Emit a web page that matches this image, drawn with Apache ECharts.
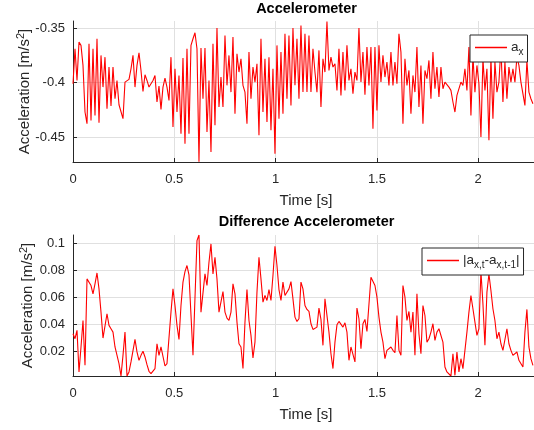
<!DOCTYPE html>
<html>
<head>
<meta charset="utf-8">
<script src="https://cdn.jsdelivr.net/npm/echarts@6/dist/echarts.min.js"></script>
<style>
  html, body { margin: 0; padding: 0; background: #ffffff; }
  #chart { width: 534px; height: 430px; }
</style>
</head>
<body>
<div id="chart"></div>
<script>
// Length of the recording, in seconds (first sample at t = 0)
const RECORD_DURATION = 2.27;

// x-axis acceleration a_x [m/s^2]
const accelX = [
  -0.4009,-0.3688,-0.3979,-0.3627,-0.3657,-0.3841,-0.4269,-0.4376,-0.3642,-0.4346,
  -0.3688,-0.4300,-0.3596,-0.4367,-0.3749,-0.4040,-0.3765,-0.4239,-0.3856,-0.4214,
  -0.3856,-0.4147,-0.3979,-0.4202,-0.4193,-0.4330,-0.3994,-0.3988,-0.3969,-0.3872,
  -0.3749,-0.4040,-0.3841,-0.3725,-0.3887,-0.4080,-0.3927,-0.3979,-0.4040,-0.4009,
  -0.3979,-0.3933,-0.4177,-0.4031,-0.4245,-0.4040,-0.3957,-0.4040,-0.4162,-0.3765,
  -0.4407,-0.3872,-0.4269,-0.3933,-0.4468,-0.3774,-0.4560,-0.3688,-0.4468,-0.3657,
  -0.3596,-0.3541,-0.3688,-0.4725,-0.3682,-0.4147,-0.3682,-0.4453,-0.3979,-0.4636,
  -0.3642,-0.4391,-0.3498,-0.4223,-0.3948,-0.4223,
  -0.3566,-0.4024,-0.3749,-0.4086,-0.3581,-0.4284,-0.3734,-0.3902,-0.3780,-0.4024,
  -0.4086,-0.4376,-0.3719,-0.4147,-0.3856,-0.3994,-0.3826,-0.4483,-0.3596,-0.4269,
  -0.3780,-0.4361,-0.3765,-0.4437,-0.3872,-0.4651,-0.3657,-0.4330,-0.3719,-0.4284,
  -0.3550,-0.4147,-0.3566,-0.4208,-0.3498,-0.4024,-0.3596,-0.4147,-0.3474,-0.4086,
  -0.3550,-0.4086,-0.3566,-0.4086,-0.3688,-0.3902,-0.4086,-0.3703,-0.4223,-0.3780,
  -0.3902,-0.3437,-0.3887,-0.3765,-0.3856,-0.3826,-0.4070,-0.3688,-0.4116,-0.3719,
  -0.4070,-0.3657,-0.3979,-0.3872,-0.4101,-0.3902,-0.3979,-0.3498,-0.3994,-0.3719,
  -0.4110,-0.3673,-0.4024,-0.3673,-0.4422,-0.3673,-0.4254,
  -0.3657,-0.3994,-0.3749,-0.3948,-0.3810,-0.4024,-0.3719,-0.4024,-0.3810,-0.4009,
  -0.3550,-0.3719,-0.4376,-0.3780,-0.4024,-0.3887,-0.4284,-0.3933,-0.4086,-0.3673,
  -0.4223,-0.3841,-0.4376,-0.3887,-0.3963,-0.3795,-0.4147,-0.3719,-0.4055,-0.3856,
  -0.4131,-0.3856,-0.4055,-0.3994,-0.4009,-0.4040,-0.4070,-0.4177,-0.4269,-0.4116,
  -0.4101,-0.3994,-0.4024,-0.3872,-0.4070,-0.3673,-0.4300,-0.3749,-0.4086,-0.3841,
  -0.4009,-0.4498,-0.3780,-0.4070,-0.3872,-0.4529,-0.3765,-0.4330,-0.3810,-0.4086,
  -0.3994,-0.3673,-0.4177,-0.3810,-0.4147,-0.3856,-0.3994,-0.3872,-0.3994,-0.3765,
  -0.3841,-0.3994,-0.3979,-0.4208,-0.3795,-0.4086,-0.4147,-0.4193
];

// Sample-to-sample change |a_x,t - a_x,t-1| [m/s^2]
const accelDiff = [
  0.0328,0.0291,0.0353,0.0045,0.0230,0.0426,0.0094,0.0734,0.0722,0.0685,
  0.0623,0.0697,0.0778,0.0660,0.0488,0.0296,0.0291,0.0476,0.0390,0.0365,
  0.0340,0.0230,0.0225,0.0107,0.0015,0.0168,0.0340,0.0015,0.0045,0.0119,
  0.0114,0.0286,0.0193,0.0131,0.0168,0.0198,0.0156,0.0099,0.0050,0.0033,
  0.0033,0.0070,0.0254,0.0168,0.0230,0.0217,0.0089,0.0107,0.0119,0.0488,
  0.0660,0.0537,0.0390,0.0286,0.0537,0.0710,0.0788,0.0833,0.0764,0.0764,
  0.0168,0.0180,0.1017,0.1059,0.0488,0.0488,0.0771,0.0685,0.0857,0.0993,
  0.0771,0.0894,0.0734,0.0488,0.0488,0.0640,
  0.0488,0.0444,0.0426,0.0488,0.0697,0.0623,0.0414,0.0254,0.0230,0.0070,
  0.0414,0.0655,0.0426,0.0316,0.0148,0.0266,0.0636,0.0894,0.0734,0.0562,
  0.0611,0.0574,0.0655,0.0574,0.0759,0.0975,0.0833,0.0655,0.0574,0.0710,
  0.0611,0.0611,0.0660,0.0714,0.0586,0.0451,0.0419,0.0439,0.0710,0.0660,
  0.0537,0.0508,0.0493,0.0402,0.0360,0.0360,0.0377,0.0518,0.0434,0.0242,
  0.0586,0.0591,0.0340,0.0180,0.0070,0.0266,0.0394,0.0419,0.0426,0.0377,
  0.0409,0.0340,0.0131,0.0230,0.0217,0.0119,0.0518,0.0439,0.0217,0.0402,
  0.0434,0.0345,0.0335,0.0746,0.0759,0.0685,0.0599,
  0.0451,0.0340,0.0266,0.0143,0.0205,0.0217,0.0230,0.0205,0.0188,0.0463,
  0.0205,0.0168,0.0685,0.0599,0.0426,0.0493,0.0340,0.0488,0.0168,0.0623,
  0.0328,0.0180,0.0537,0.0463,0.0266,0.0291,0.0340,0.0402,0.0279,0.0340,
  0.0365,0.0360,0.0266,0.0082,0.0045,0.0045,0.0015,0.0180,0.0020,0.0193,
  0.0045,0.0143,0.0070,0.0205,0.0340,0.0488,0.0611,0.0513,0.0414,0.0316,
  0.0365,0.0790,0.0550,0.0242,0.0636,0.0770,0.0648,0.0513,0.0426,0.0291,
  0.0340,0.0254,0.0205,0.0193,0.0365,0.0254,0.0205,0.0168,0.0156,0.0193,
  0.0131,0.0119,0.0082,0.0340,0.0508,0.0230,0.0143,0.0094
];

// Tick positions
const timeTicks = [0, 0.5, 1, 1.5, 2];
const accelTicks = [-0.45, -0.4, -0.35];
const diffTicks = [0.02, 0.04, 0.06, 0.08, 0.1];

// Axis limits
const timeRange = [0, 2.3];
const accelRange = [-0.4728, -0.3433];
const diffRange = [0.0015, 0.1059];

const FONT = '"Liberation Sans", Arial, Helvetica, sans-serif';
const INK = '#262626';
const GRID_GRAY = '#e0e0e0';
const RED = '#ff0000';

// Pair each reading with its time stamp (uniform sampling over the recording)
const toPairs = arr => {
  const dt = RECORD_DURATION / (arr.length - 1);
  return arr.map((v, i) => [i * dt, v]);
};

function timeAxis(gridIndex) {
  return {
    type: 'value', gridIndex,
    min: timeRange[0], max: timeRange[1],
    name: 'Time [s]', nameLocation: 'middle', nameGap: 31, nameMoveOverlap: false,
    nameTextStyle: { fontFamily: FONT, fontSize: 15, color: INK },
    axisLine: { show: true, onZero: false, lineStyle: { color: INK, width: 1 } },
    axisTick: { show: true, inside: true, length: 4, customValues: timeTicks, lineStyle: { color: INK } },
    axisLabel: { customValues: timeTicks, fontFamily: FONT, fontSize: 13, color: INK, margin: 11 },
    splitLine: { show: true, lineStyle: { color: GRID_GRAY, width: 1 } }
  };
}

function accelAxis(gridIndex, range, ticks, gap) {
  return {
    type: 'value', gridIndex,
    min: range[0], max: range[1],
    name: 'Acceleration [m/s{sup|2}]', nameLocation: 'middle', nameRotate: 90, nameGap: gap,
    nameMoveOverlap: false,
    nameTextStyle: {
      fontFamily: FONT, fontSize: 15, color: INK, lineHeight: 17, verticalAlign: 'bottom',
      rich: { sup: { fontFamily: FONT, fontSize: 11, color: INK, lineHeight: 11,
                     padding: [0, 0, 7, 0], verticalAlign: 'bottom' } }
    },
    axisLine: { show: true, onZero: false, lineStyle: { color: INK, width: 1 } },
    axisTick: { show: true, inside: true, length: 4, customValues: ticks, lineStyle: { color: INK } },
    axisLabel: { customValues: ticks, fontFamily: FONT, fontSize: 13, color: INK, margin: 8 },
    splitLine: { show: true, lineStyle: { color: GRID_GRAY, width: 1 } }
  };
}

// Legend label styles: a red key stroke, the symbol, and its subscript
const legendRich = {
  key: { width: 32, height: 1.5, lineHeight: 1.5, fontSize: 1, backgroundColor: RED,
         verticalAlign: 'middle', padding: [0, 0, 0, 0] },
  gap: { width: 4, fontSize: 1 },
  n: { fontFamily: FONT, fontSize: 13.5, color: INK, lineHeight: 15, verticalAlign: 'top' },
  s: { fontFamily: FONT, fontSize: 10, color: INK, lineHeight: 10, padding: [7, 0, 0, 0], verticalAlign: 'top' }
};

const legendLabels = {
  ax: '{key| }{gap| }{n|a}{s|x}',
  diff: '{key| }{gap| }{n||a}{s|x,t}{n|-a}{s|x,t-1}{n||}'
};

function legendBox(name, left, top) {
  return {
    data: [name],
    left, top, orient: 'vertical',
    icon: 'none', itemWidth: 0, itemHeight: 14, itemGap: 0,
    padding: [5, 4, 5, 0],
    backgroundColor: '#ffffff', borderColor: INK, borderWidth: 1, borderRadius: 0,
    selectedMode: false,
    formatter: n => legendLabels[n],
    textStyle: { rich: legendRich }
  };
}

const chart = echarts.init(document.getElementById('chart'), null, { renderer: 'canvas' });

chart.setOption({
  animation: false,
  backgroundColor: '#ffffff',
  color: [RED, RED],
  title: [
    { text: 'Accelerometer', left: 306.5, top: 1, padding: 0, textAlign: 'center',
      textStyle: { fontFamily: FONT, fontSize: 14.5, fontWeight: 'bold', color: '#000000' } },
    { text: 'Difference Accelerometer', left: 306.5, top: 214, padding: 0, textAlign: 'center',
      textStyle: { fontFamily: FONT, fontSize: 14.5, fontWeight: 'bold', color: '#000000' } }
  ],
  grid: [
    { left: 73, top: 21, width: 466, height: 141, outerBoundsMode: 'none', containLabel: false },
    { left: 73, top: 235, width: 466, height: 141, outerBoundsMode: 'none', containLabel: false }
  ],
  xAxis: [timeAxis(0), timeAxis(1)],
  yAxis: [
    accelAxis(0, accelRange, accelTicks, 40),
    accelAxis(1, diffRange, diffTicks, 37)
  ],
  legend: [legendBox('ax', 470, 35), legendBox('diff', 422, 248)],
  series: [
    { name: 'ax', type: 'line', xAxisIndex: 0, yAxisIndex: 0, data: toPairs(accelX),
      symbol: 'none', showSymbol: false, sampling: null, clip: true,
      lineStyle: { color: RED, width: 1.1 }, itemStyle: { color: RED } },
    { name: 'diff', type: 'line', xAxisIndex: 1, yAxisIndex: 1, data: toPairs(accelDiff),
      symbol: 'none', showSymbol: false, sampling: null, clip: true,
      lineStyle: { color: RED, width: 1.1 }, itemStyle: { color: RED } }
  ]
});
</script>
</body>
</html>
